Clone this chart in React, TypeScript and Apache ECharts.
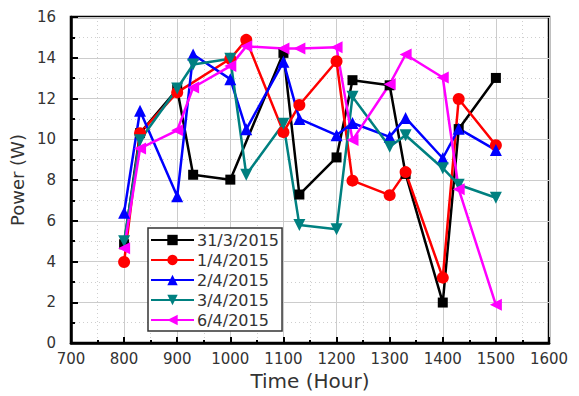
import React, { useEffect, useRef } from "react";
import * as echarts from "echarts";

const times = [800, 830, 900, 930, 1000, 1030, 1100, 1130, 1200, 1230, 1300, 1330, 1400, 1430, 1500];
const seriesNames = ["31/3/2015", "1/4/2015", "2/4/2015", "3/4/2015", "6/4/2015"];
const d31_3 = [4.85, 10.3, 12.45, 8.26, 8.02, null, 14.24, 7.29, 9.11, 12.9, 12.65, 8.3, 1.99, 10.5, 13.01];
const d1_4 = [3.98, 10.3, 12.3, null, 13.95, 14.88, 10.35, 11.68, 13.83, 7.97, 7.26, 8.39, 3.21, 11.98, 9.71];
const d2_4 = [6.4, 11.4, 7.2, 14.16, 12.95, 10.49, 13.8, 11.0, 10.2, 10.8, 10.12, 11.05, 9.07, 10.52, 9.47];
const d3_4 = [5.0, 9.95, 12.49, 13.67, 13.95, 8.26, 10.76, 5.8, 5.59, 12.09, 9.63, 10.2, 8.58, 7.77, 7.13];
const d6_4 = [4.65, 9.55, 10.44, 12.54, 13.59, 14.56, 14.45, 14.45, 14.51, 9.96, 12.7, 14.16, 13.03, 7.55, 1.88];
const xTicks = [700, 800, 900, 1000, 1100, 1200, 1300, 1400, 1500, 1600];
const yTicks = [0, 2, 4, 6, 8, 10, 12, 14, 16];

const colors = ["#000000", "#ff0000", "#0000ff", "#008080", "#ff00ff"];
const symbols = ["rect", "circle", "triangle", "triangle", "triangle"];
const rotates = [0, 0, 0, 180, 90];

export default function App() {
  const ref = useRef<HTMLDivElement>(null);
  useEffect(() => {
    if (!ref.current) return;
    const chart = echarts.init(ref.current, null, { renderer: "svg" });
    const data = [d31_3, d1_4, d2_4, d3_4, d6_4];
    const font = "DejaVu Sans";
    chart.setOption({
      animation: false,
      grid: {
        left: 69,
        top: 17,
        right: 30,
        bottom: 49,
        show: true,
        borderColor: "#000",
        borderWidth: 2.5,
        backgroundColor: "transparent",
      },
      legend: {
        orient: "vertical",
        left: 148,
        top: 228,
        padding: [4, 3, 3, 2],
        itemGap: 4,
        itemWidth: 43,
        itemHeight: 13,
        borderColor: "#333",
        borderWidth: 1.5,
        backgroundColor: "#fff",
        textStyle: { fontFamily: font, fontSize: 16, color: "#333", lineHeight: 16, padding: [0, 0, 0, -2] },
        data: seriesNames,
      },
      xAxis: {
        type: "value",
        min: xTicks[0],
        max: xTicks[xTicks.length - 1],
        interval: 100,
        name: "Time (Hour)",
        nameLocation: "middle",
        nameGap: 18,
        nameTextStyle: { fontFamily: font, fontSize: 20, color: "#333" },
        axisLine: { show: true, lineStyle: { color: "#000", width: 2.5 } },
        axisTick: { show: true, inside: true, length: 6, lineStyle: { color: "#000", width: 2 } },
        minorTick: { show: true, splitNumber: 2, length: 3, lineStyle: { color: "#000", width: 2 } },
        axisLabel: { fontFamily: font, fontSize: 15, color: "#333", margin: 8, formatter: (v: number) => String(v) },
        splitLine: { show: true, lineStyle: { color: "#cccccc", width: 1 } },
        minorSplitLine: { show: true, lineStyle: { color: "#cfcfcf", width: 1, type: [1, 3] } },
      },
      yAxis: {
        type: "value",
        min: yTicks[0],
        max: yTicks[yTicks.length - 1],
        interval: 2,
        name: "Power (W)",
        nameLocation: "middle",
        nameGap: 32,
        nameTextStyle: { fontFamily: font, fontSize: 18, color: "#333" },
        axisLine: { show: true, lineStyle: { color: "#000", width: 2.5 } },
        axisTick: { show: true, inside: true, length: 7, lineStyle: { color: "#000", width: 2 } },
        minorTick: { show: true, splitNumber: 2, length: 4, lineStyle: { color: "#000", width: 2 } },
        axisLabel: { fontFamily: font, fontSize: 15, color: "#333", margin: 15 },
        splitLine: { show: true, lineStyle: { color: "#cccccc", width: 1 } },
        minorSplitLine: { show: true, lineStyle: { color: "#cfcfcf", width: 1, type: [1, 3] } },
      },
      series: seriesNames.map((name, i) => ({
        name,
        type: "line",
        data: times.map((t, j) => [t, data[i][j]]).filter((p) => p[1] !== null),
        symbol: symbols[i],
        symbolRotate: rotates[i],
        symbolSize: i === 0 ? 10 : 12,
        showAllSymbol: true,
        color: colors[i],
        lineStyle: { color: colors[i], width: 2.5 },
        itemStyle: { color: colors[i] },
      })),
    });
    return () => chart.dispose();
  }, []);
  return <div ref={ref} style={{ width: 579, height: 396, position: "absolute", left: 0, top: 0 }} />;
}
